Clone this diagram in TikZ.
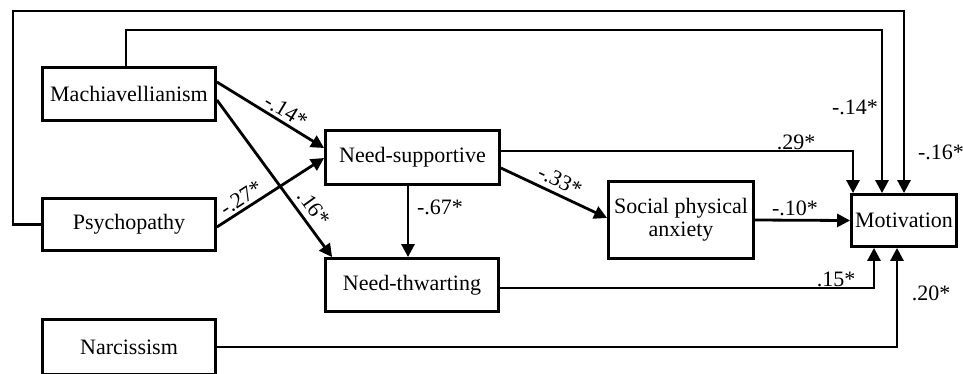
\documentclass[tikz,border=0pt]{standalone}
\usepackage{fontspec}
\setmainfont{Liberation Serif}
\usetikzlibrary{arrows.meta}
\begin{document}
\begin{tikzpicture}[x=1pt,y=-1pt,
  box/.style={draw,line width=2.8pt,inner sep=0pt,align=center,font=\fontsize{22}{23}\selectfont},
  conn/.style={line width=2.8pt,-{Triangle[length=13pt,width=13pt]}},
  lbl/.style={font=\fontsize{22}{23}\selectfont,inner sep=0pt}]
\useasboundingbox (0,0) rectangle (963,373);
% boxes
\node[box,minimum width=173pt,minimum height=53pt] (mach) at (129,94) {Machiavellianism};
\node[box,minimum width=173pt,minimum height=52pt] (psy) at (129,224.5) {Psychopathy};
\node[box,minimum width=173pt,minimum height=55pt] (nar) at (129,347) {Narcissism};
\node[box,minimum width=174pt,minimum height=54pt] (ns) at (412.5,157.5) {Need-supportive};
\node[box,minimum width=173pt,minimum height=53pt] (nt) at (412,285) {Need-thwarting};
\node[box,minimum width=145pt,minimum height=77pt] (spa) at (681,220) {Social physical\\anxiety};
\node[box,minimum width=105pt,minimum height=52pt] (mot) at (904,220.5) {Motivation};
% connectors
\draw[conn] (psy.west) -| (13,11) -| (mot.north);
\draw[conn] ([xshift=-3pt]mach.north) |- (882,30) -- ([xshift=-22pt]mot.north);
\draw[conn] ([yshift=6.5pt]ns.east) -| ([xshift=-51pt]mot.north);
\draw[conn] (spa.east) -- (mot.west);
\draw[conn] ([yshift=-3pt]nt.east) -| ([xshift=-30pt]mot.south);
\draw[conn] (nar.east) -| ([xshift=-7pt]mot.south);
\draw[conn] ([xshift=-4.5pt]ns.south) -- ([xshift=-4pt]nt.north);
\draw[conn] ([yshift=12pt]mach.east) -- ([yshift=9.5pt]ns.west);
\draw[conn] ([yshift=-6pt]mach.east) -- ([xshift=8pt]nt.north west);
\draw[conn] ([yshift=-2.5pt]psy.east) -- ([yshift=-0.5pt]ns.west);
\draw[conn] ([yshift=-10.5pt]ns.east) -- ([yshift=2pt]spa.west);
% labels
\node[lbl,rotate=-31] (l1) at (286,111) {-.14*};
\node[lbl,rotate=33] (l2) at (241,198) {-.27*};
\node[lbl,rotate=-54] (l3) at (314,208) {.16*};
\node[lbl,rotate=-26] (l4) at (560,181) {-.33*};
\node[lbl] (l5) at (440,207) {-.67*};
\node[lbl] (l6) at (855,107) {-.14*};
\node[lbl] (l7) at (941,152) {-.16*};
\node[lbl] (l8) at (796,142) {.29*};
\node[lbl] (l9) at (795,208) {-.10*};
\node[lbl] (l10) at (836,279) {.15*};
\node[lbl] (l11) at (931,293) {.20*};
\end{tikzpicture}
\end{document}
